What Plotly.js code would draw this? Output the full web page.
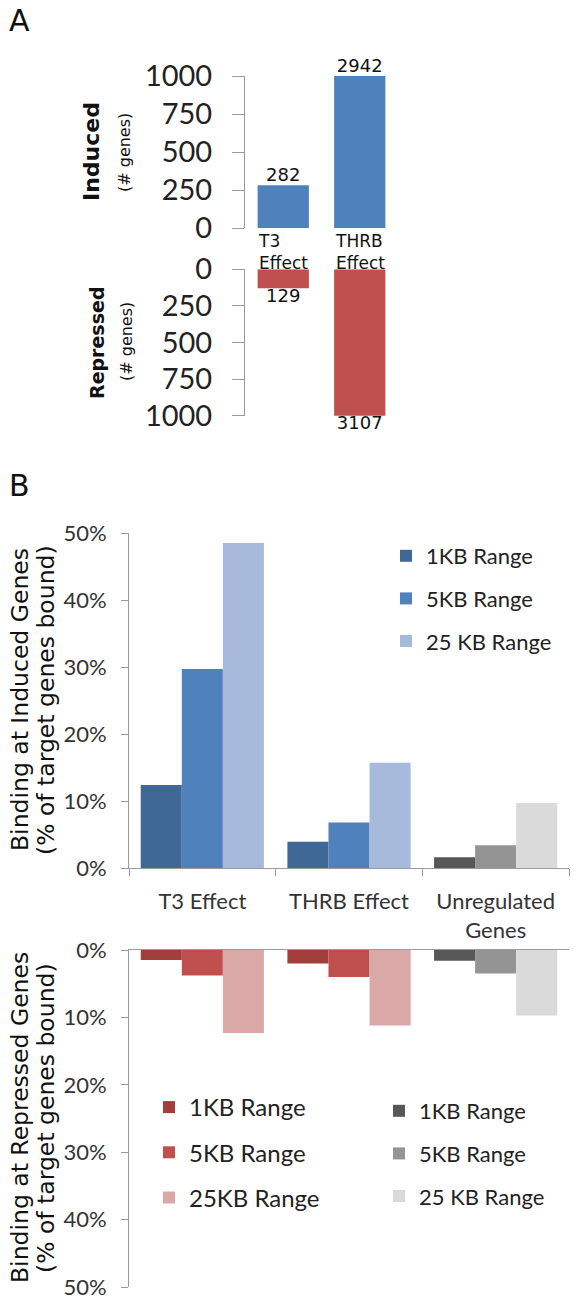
<!DOCTYPE html>
<html>
<head>
<meta charset="utf-8">
<script src="https://cdn.plot.ly/plotly-3.0.1.min.js"></script>
<style>html,body{margin:0;padding:0;background:#fff;}#chart{width:576px;height:1303px;}</style>
</head>
<body>
<div id="chart"></div>
<script>
// ---------- data ----------
const categoriesA = ['T3 Effect', 'THRB Effect'];
const inducedCounts = [282, 2942];
const repressedCounts = [129, 3107];
const countAxisMax = 1000;
const countTicks = [0, 250, 500, 750, 1000];

const categoriesB = ['T3 Effect', 'THRB Effect', 'Unregulated Genes'];
const tickLabelsB = ['T3 Effect', 'THRB Effect', 'Unregulated<br>Genes'];
const rangeNames = ['1KB Range', '5KB Range', '25 KB Range'];
const rangeNamesRed = ['1KB Range', '5KB Range', '25KB Range'];
const induced1KB = [12.4, 3.9, 1.6];
const induced5KB = [29.7, 6.8, 3.4];
const induced25KB = [48.5, 15.7, 9.7];
const repressed1KB = [1.5, 2.0, 1.6];
const repressed5KB = [3.8, 4.0, 3.5];
const repressed25KB = [12.3, 11.2, 9.7];

// ---------- styling ----------
const blueColors = ['#3F6897', '#4F81BD', '#A8BADB'];
const redColors = ['#A23E3B', '#C0504D', '#D9A8A7'];
const grayColors = ['#575757', '#949494', '#DADADA'];
const W = 576, H = 1303;
const px = x => x / W;
const py = y => 1 - y / H;
const axisGray = '#9a9a9a';
const calib = 'Lato, "Open Sans", sans-serif';
const dejavu = '"DejaVu Sans", Verdana, sans-serif';

const traces = [];
// Panel A
traces.push({type:'bar', x:categoriesA, y:inducedCounts, xaxis:'x', yaxis:'y', width:0.67,
  marker:{color:'#4F81BD'}, showlegend:false, hoverinfo:'skip'});
traces.push({type:'scatter', mode:'text', x:categoriesA, y:inducedCounts.map(v=>Math.min(v,countAxisMax)),
  text:inducedCounts.map(String), textposition:'top center', cliponaxis:false,
  textfont:{family:dejavu, size:18, color:'#111'}, xaxis:'x', yaxis:'y', showlegend:false, hoverinfo:'skip'});
traces.push({type:'bar', x:categoriesA, y:repressedCounts, xaxis:'x2', yaxis:'y2', width:0.67,
  marker:{color:'#C0504D'}, showlegend:false, hoverinfo:'skip'});
traces.push({type:'scatter', mode:'text', x:categoriesA, y:repressedCounts.map(v=>Math.min(v,countAxisMax)),
  text:repressedCounts.map(String), textposition:'bottom center', cliponaxis:false,
  textfont:{family:dejavu, size:18, color:'#111'}, xaxis:'x2', yaxis:'y2', showlegend:false, hoverinfo:'skip'});

// Panel B
const inducedSeries = [induced1KB, induced5KB, induced25KB];
const repressedSeries = [repressed1KB, repressed5KB, repressed25KB];
const regIdx = [0, 1], unregIdx = [2];
inducedSeries.forEach((s, i) => {
  traces.push({type:'bar', name:rangeNames[i], x:regIdx.map(j=>categoriesB[j]), y:regIdx.map(j=>s[j]),
    xaxis:'x3', yaxis:'y3', offsetgroup:'g'+i, marker:{color:blueColors[i]},
    legend:'legend', legendgroup:'b'+i, hoverinfo:'skip'});
  traces.push({type:'bar', name:rangeNames[i], x:unregIdx.map(j=>categoriesB[j]), y:unregIdx.map(j=>s[j]),
    xaxis:'x3', yaxis:'y3', offsetgroup:'g'+i, marker:{color:grayColors[i]}, showlegend:false, hoverinfo:'skip'});
});
repressedSeries.forEach((s, i) => {
  traces.push({type:'bar', name:rangeNamesRed[i], x:regIdx.map(j=>categoriesB[j]), y:regIdx.map(j=>s[j]),
    xaxis:'x4', yaxis:'y4', offsetgroup:'g'+i, marker:{color:redColors[i]},
    legend:'legend2', legendgroup:'r'+i, hoverinfo:'skip'});
});
repressedSeries.forEach((s, i) => {
  traces.push({type:'bar', name:rangeNames[i], x:unregIdx.map(j=>categoriesB[j]), y:unregIdx.map(j=>s[j]),
    xaxis:'x4', yaxis:'y4', offsetgroup:'g'+i, marker:{color:grayColors[i]},
    legend:'legend3', legendgroup:'k'+i, hoverinfo:'skip'});
});

const yA = {range:[0, countAxisMax], tickvals:countTicks, showline:true, linecolor:axisGray, linewidth:1,
  ticks:'outside', ticklen:12, tickcolor:axisGray, showgrid:false, zeroline:false,
  tickfont:{family:calib, size:29, color:'#222'}, ticklabelstandoff:14, fixedrange:true};
const yB = {range:[0, 50], dtick:10, ticksuffix:'%', showline:true, linecolor:axisGray, linewidth:1,
  ticks:'outside', ticklen:7, tickcolor:axisGray, showgrid:false, zeroline:false,
  tickfont:{family:calib, size:22, color:'#333'}, ticklabelstandoff:10};

const legendBase = {bgcolor:'rgba(0,0,0,0)', xanchor:'left', yanchor:'top', tracegroupgap:11,
  traceorder:'grouped', itemclick:false};

function rot(text, x, y, size) {
  return {text:text, x:px(x), y:py(y), xref:'paper', yref:'paper', xanchor:'center', yanchor:'middle',
    textangle:-90, showarrow:false, font:{family:dejavu, size:size, color:'#111'}};
}

const layout = {
  width:W, height:H, margin:{l:0, r:0, t:0, b:0}, paper_bgcolor:'#fff', plot_bgcolor:'rgba(0,0,0,0)',
  barmode:'group', bargap:0.16, bargroupgap:0, showlegend:true,
  xaxis:{domain:[px(245), px(398)], anchor:'y', type:'category', categoryarray:categoriesA,
    showline:false, showticklabels:false, ticks:'', showgrid:false, zeroline:false},
  yaxis:Object.assign({}, yA, {domain:[py(228.3), py(76)], anchor:'x'}),
  xaxis2:{domain:[px(245), px(398)], anchor:'y2', type:'category', categoryarray:categoriesA,
    showline:false, showticklabels:false, ticks:'', showgrid:false, zeroline:false},
  yaxis2:Object.assign({}, yA, {domain:[py(415.7), py(269.3)], anchor:'x2', range:[countAxisMax, 0]}),
  xaxis3:{domain:[px(129), px(569)], anchor:'y3', type:'category', categoryorder:'array', categoryarray:categoriesB,
    tickvals:categoriesB, ticktext:tickLabelsB, showline:true, linecolor:axisGray, ticks:'outside', tickson:'boundaries',
    ticklen:7, tickcolor:axisGray, showgrid:false, zeroline:false, ticklabelstandoff:14,
    tickfont:{family:calib, size:22, color:'#333'}},
  yaxis3:Object.assign({}, yB, {domain:[py(868), py(533)], anchor:'x3'}),
  xaxis4:{domain:[px(129), px(569)], anchor:'y4', side:'top', type:'category', categoryorder:'array', categoryarray:categoriesB,
    showline:true, linecolor:axisGray, ticks:'', showticklabels:false, showgrid:false, zeroline:false},
  yaxis4:Object.assign({}, yB, {domain:[py(1287), py(950)], anchor:'x4', range:[50, 0]}),
  legend:Object.assign({}, legendBase, {x:px(386), y:py(535), font:{family:calib, size:22, color:'#222'}}),
  legend2:Object.assign({}, legendBase, {x:px(149), y:py(1085), font:{family:calib, size:24, color:'#222'}}),
  legend3:Object.assign({}, legendBase, {x:px(379), y:py(1090), font:{family:calib, size:22, color:'#222'}}),
  annotations:[
    {text:'A', x:px(7), y:py(21), xref:'paper', yref:'paper', xanchor:'left', yanchor:'middle', showarrow:false,
      font:{family:dejavu, size:30, color:'#111'}},
    {text:'B', x:px(7), y:py(486), xref:'paper', yref:'paper', xanchor:'left', yanchor:'middle', showarrow:false,
      font:{family:dejavu, size:30, color:'#111'}},
    rot('<b>Induced</b>', 92, 152, 22),
    rot('(# genes)', 125, 153, 16),
    rot('<b>Repressed</b>', 97, 343, 19),
    rot('(# genes)', 127, 342, 16),
    rot('Binding at Induced Genes', 20, 700, 23.5),
    rot('(% of target genes bound)', 46, 700, 23.5),
    rot('Binding at Repressed Genes', 20, 1118, 23.5),
    rot('(% of target genes bound)', 46, 1118, 23.5)
  ].concat(categoriesA.map(c => ({
    text:c.replace(' ', '<br>'), x:c, y:0, xref:'x', yref:'y', xanchor:'center', yanchor:'top', align:'left',
    yshift:-1, showarrow:false, font:{family:dejavu, size:17, color:'#111'}
  })))
};

Plotly.newPlot('chart', traces, layout, {displayModeBar:false, staticPlot:true});
</script>
</body>
</html>
